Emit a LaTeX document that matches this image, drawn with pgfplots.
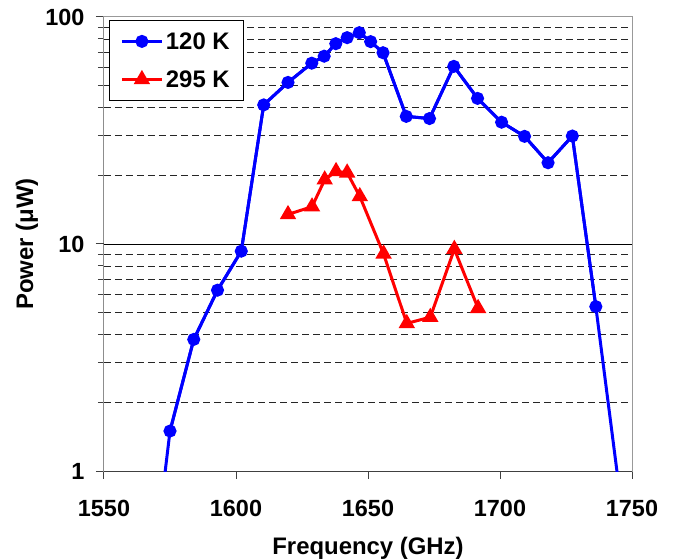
\documentclass[border=0pt]{standalone}
\usepackage{fontspec}
\setmainfont{Liberation Sans}
\usepackage{pgfplots}
\pgfplotsset{compat=1.18}

\definecolor{xlblue}{RGB}{0,0,255}
\definecolor{xlred}{RGB}{255,0,0}

\newcommand{\tickfont}{\fontsize{23.5}{28}\selectfont\bfseries}
\newcommand{\labfont}{\fontsize{24}{28}\selectfont\bfseries}

\begin{document}
\begin{tikzpicture}
\begin{axis}[
    name=ax,
    scale only axis,
    width=528bp, height=454bp,
    xmin=1550, xmax=1750,
    ymode=log, ymin=1, ymax=100,
    xtick={1550,1600,...,1750},
    ytick={1,10,100},
    yticklabels={1,10,100},
    minor ytick={2,3,...,9,20,30,...,90},
    extra y ticks={10},
    extra y tick labels={},
    extra y tick style={grid=major, major grid style={black, line width=0.9bp, solid}},
    tick pos=left,
    tick align=outside,
    major tick length=8bp, minor tick length=6bp,
    yminorgrids,
    minor grid style={black!85, line width=0.8bp, dash pattern=on 7bp off 4bp},
    axis line style={black!40, line width=1bp},
    tick style={black!75, line width=1bp},
    /pgf/number format/assume math mode=true,
    /pgf/number format/1000 sep={},
    tick label style={font=\tickfont},
    xticklabel style={yshift=-17.5bp},
    yticklabel style={xshift=-8bp},
    xlabel={Frequency (GHz)},
    ylabel={Power (μW)},
    every axis x label/.style={at={(axis description cs:0.5,0)}, anchor=base, yshift=-83.5bp, font=\labfont},
    every axis y label/.style={at={(axis description cs:-0.1458,0.5)}, anchor=center, rotate=90, font=\labfont},
    legend style={at={(0.0095,0.9934)}, anchor=north west, draw=black, line width=0.8bp,
        fill=white, font=\labfont, inner xsep=11bp, inner ysep=12.5bp, row sep=21bp,
        nodes={inner xsep=2.5bp, inner ysep=0bp, text height=17bp, text depth=0bp},
        cells={anchor=west}},
    legend image code/.code={\draw[mark repeat=2,mark phase=2] plot coordinates {(0bp,0bp) (20bp,0bp) (40bp,0bp)};},
]
\draw[black!75, line width=1bp] (rel axis cs:0,1) -- (rel axis cs:0,0) -- (rel axis cs:1,0);

% full 120 K curve, its ends run past the axis bottom
\addplot[xlblue, line width=3bp, forget plot] coordinates {
    (1567,0.25) (1575,1.50) (1584,3.80) (1593,6.26) (1602,9.30)
    (1610.5,41.0) (1619.7,51.5) (1628.7,62.6) (1633.4,67.2) (1637.8,76.3)
    (1642.1,81.1) (1646.7,85.3) (1651,77.9) (1655.7,69.6) (1664.5,36.5)
    (1673.3,35.7) (1682.5,60.6) (1691.5,43.8) (1700.6,34.4) (1709.3,29.8)
    (1718.2,22.8) (1727.4,29.9) (1736.3,5.30) (1746,0.7)
};
\addplot[xlblue, line width=3bp, mark=*, mark size=5bp, mark options={solid, fill=xlblue}] coordinates {
    (1575,1.50) (1584,3.80) (1593,6.26) (1602,9.30)
    (1610.5,41.0) (1619.7,51.5) (1628.7,62.6) (1633.4,67.2) (1637.8,76.3)
    (1642.1,81.1) (1646.7,85.3) (1651,77.9) (1655.7,69.6) (1664.5,36.5)
    (1673.3,35.7) (1682.5,60.6) (1691.5,43.8) (1700.6,34.4) (1709.3,29.8)
    (1718.2,22.8) (1727.4,29.9) (1736.3,5.30)
};
\addlegendentry{120 K}

\addplot[xlred, line width=3bp, mark=triangle*, mark size=6.5bp, mark options={solid, fill=xlred}] coordinates {
    (1619.7,13.5) (1628.8,14.6) (1633.6,19.2) (1637.9,20.9) (1642.1,20.6)
    (1646.9,16.2) (1655.9,9.05) (1664.7,4.47) (1673.6,4.76) (1682.7,9.49)
    (1691.7,5.21)
};
\addlegendentry{295 K}
\end{axis}
\pgfresetboundingbox
\path[use as bounding box] ([shift={(-104bp,-88bp)}]ax.south west) rectangle ([shift={(44bp,17bp)}]ax.north east);
\end{tikzpicture}
\end{document}
